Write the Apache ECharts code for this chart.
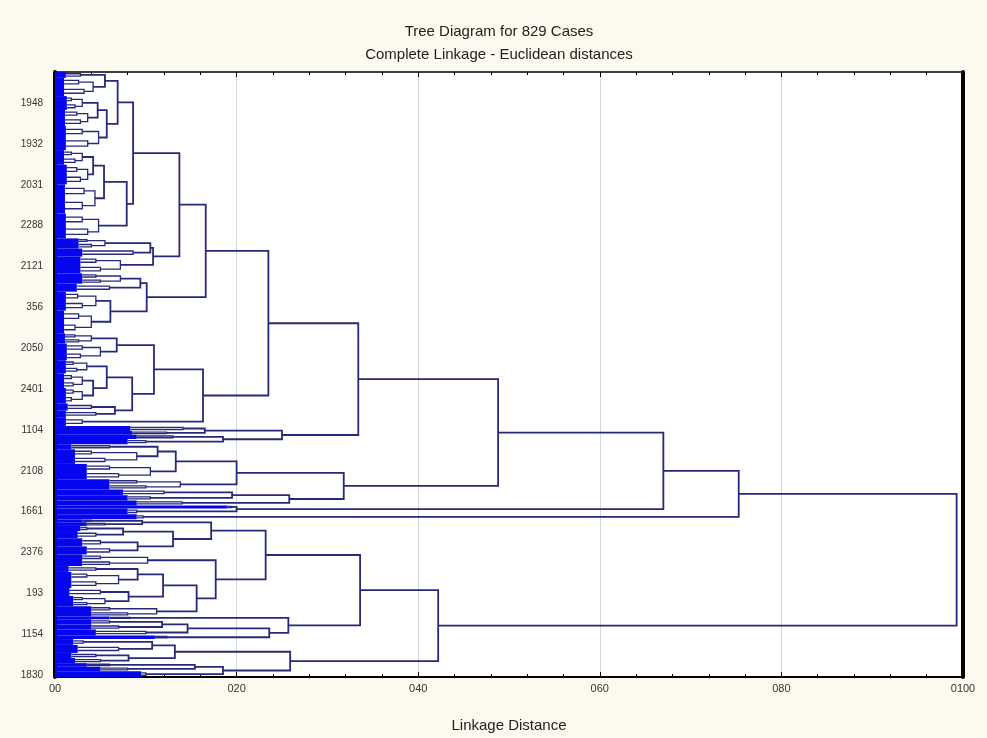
<!DOCTYPE html>
<html>
<head>
<meta charset="utf-8">
<script src="https://cdn.jsdelivr.net/npm/echarts@6/dist/echarts.min.js"></script>
<style>
html,body{margin:0;padding:0;background:#fcf9ef;}
#chart{width:987px;height:738px;}
</style>
</head>
<body>
<div id="chart"></div>
<script>
// ---- data ----
const xTickLabels = ['00', '020', '040', '060', '080', '0100'];
const yTickLabels = ['1948', '1932', '2031', '2288', '2121', '356', '2050', '2401', '1104', '2108', '1661', '2376', '193', '1154', '1830'];
const yTickLeaf = [42, 98, 154, 210, 266, 322, 378, 434, 490, 546, 602, 658, 714, 770, 826];

// base clusters (groups of cases drawn as dense leaf bundles), top to bottom
const baseNames = ['b1','b2','b3','b4','b5','b6','b7','b8','b9','b10','b11','b12','b13','b14','b15','b16','b17','b18','b19','b20','b21','b22','b23','b24','b25','b26','b27','b28','b29','b30','b31','b32','b33','b34','b35','b36','b37','b38','b39','b40','b41','b42','b43','b44','b45','b46','b47','b48','b49','b50','b51','b52','b53','b54','b55','b56','b57','b58','b59','b60','b61','b62'];
const baseCounts = [8,25,19,22,33,20,27,40,34,14,11,23,14,11,26,31,14,23,18,20,21,10,9,12,7,5,6,7,7,20,21,14,8,7,7,4,8,7,4,5,7,10,11,11,16,8,22,11,14,14,4,7,7,8,5,8,11,7,7,5,6,8];
const baseBlue = [.0012,.0010,.0013,.0011,.0012,.0010,.0013,.0011,.0012,.0026,.0030,.0028,.0030,.0024,.0012,.0010,.0011,.0013,.0012,.0010,.0012,.0014,.0012,.0012,.0083,.0085,.0090,.0080,.0018,.0022,.0035,.0060,.0075,.0080,.0090,.0190,.0080,.0090,.0030,.0035,.0028,.0025,.0030,.0035,.0030,.0015,.0018,.0016,.0020,.0040,.0060,.0040,.0040,.0045,.0110,.0020,.0025,.0018,.0022,.0035,.0050,.0095];
const baseHeight = [.0028,.0042,.0030,.0036,.0048,.0030,.0036,.0044,.0048,.0055,.0086,.0072,.0072,.0060,.0045,.0040,.0040,.0050,.0035,.0030,.0030,.0040,.0045,.0030,.0141,.0123,.0130,.0100,.0060,.0090,.0105,.0138,.0120,.0105,.0140,.0195,.0090,.0097,.0040,.0055,.0035,.0045,.0050,.0060,.0102,.0045,.0070,.0050,.0055,.0112,.0083,.0060,.0070,.0100,.0123,.0031,.0070,.0045,.0050,.0060,.0080,.0100];
// inner split of the larger bundles: cases in the upper part (0 = no split) and the two inner heights
const baseSplit = [0,12,9,10,15,9,13,18,16,6,0,11,7,0,12,15,7,11,8,10,10,0,0,0,0,0,0,0,0,9,10,7,0,0,0,0,0,0,0,0,0,0,0,0,8,0,10,0,7,7,0,0,0,0,0,0,0,0,0,0,0,0];
const baseSubUpper = [0,.0026,.0018,.0024,.0030,.0018,.0024,.0032,.0030,.0035,0,.0045,.0045,0,.0025,.0026,.0022,.0030,.0020,.0018,.0020,0,0,0,0,0,0,0,0,.0040,.0060,.0090,0,0,0,0,0,0,0,0,0,0,0,0,.0050,0,.0035,0,.0030,.0060,0,0,0,0,0,0,0,0,0,0,0,0];
const baseSubLower = [0,.0032,.0022,.0028,.0036,.0022,.0028,.0030,.0036,.0040,0,.0050,.0050,0,.0030,.0022,.0026,.0028,.0024,.0020,.0018,0,0,0,0,0,0,0,0,.0055,.0070,.0100,0,0,0,0,0,0,0,0,0,0,0,0,.0060,0,.0045,0,.0035,.0080,0,0,0,0,0,0,0,0,0,0,0,0];

// merges: upper child, lower child, linkage distance
const nodeNames  = ['n105','n98','n107a','n118','n93a','n104','n127','n133','n150','n153','n179','n140','n110','n147','n206','n117','n93b','n107b','n115','n132','n154','n203','n268','n205','n223a','n282','n358','n158','n176','n236','n232','n289','n344','n498','n237','n664','n739','n142','n123','n138','n173','n211','n137','n128a','n163','n197','n216','n266','n162','n188','n269','n288','n360','n152','n128b','n175','n195','n223b','n290','n438','root'];
const nodeUpper  = ['b1','b3','n98','n105','b6','n93a','n104','n118','b10','n150','n133','b13','b15','n140','n179','b17','b20','b19','b22','n107b','n117','n154','n206','b25','b27','n205','n268','b29','n158','n176','b33','n232','n236','n358','b36','n498','n664','b39','b41','b43','n123','n142','b46','b48','n137','n163','b45','n211','b52','n162','n188','b51','n266','b56','b58','n152','b60','n195','n175','n360','n739'];
const nodeLower  = ['b2','b4','b5','n107a','b7','b8','b9','n127','b11','b12','n153','b14','b16','n110','n147','b18','b21','n93b','b23','n115','n132','b24','n203','b26','b28','n223a','n282','b30','b31','b32','b34','b35','n289','n344','b37','n237','b38','b40','b42','b44','n138','n173','b47','b49','n128a','b50','n197','n216','b53','b54','b55','n269','n288','b57','b59','n128b','b61','b62','n223b','n290','n438'];
const nodeHeight = [.0055,.0047,.0057,.0069,.0042,.0054,.0079,.0086,.0105,.0108,.0137,.0094,.0061,.0101,.0166,.0068,.0042,.0057,.0066,.0085,.0109,.0163,.0235,.0165,.0185,.0250,.0334,.0113,.0133,.0200,.0195,.0258,.0318,.0488,.0200,.0670,.0753,.0096,.0075,.0091,.0130,.0172,.0091,.0081,.0119,.0156,.0177,.0232,.0118,.0146,.0236,.0257,.0336,.0107,.0081,.0132,.0154,.0185,.0259,.0422,.0993];

// ---- build layout from the tree ----
const base = {};
baseNames.forEach((n, i) => base[n] = {count: baseCounts[i], blue: baseBlue[i], h: baseHeight[i],
  split: baseSplit[i], su: baseSubUpper[i], sl: baseSubLower[i]});
const nodes = {};
nodeNames.forEach((n, i) => nodes[n] = {u: nodeUpper[i], l: nodeLower[i], h: nodeHeight[i]});
const totalCases = baseCounts.reduce((a, b) => a + b, 0);
let cursor = 0;
const blueData = [], smallData = [], linkData = [];
// a bundle of cases [y0, y1] joined at height h: a small bracket from the blue edge
function bundle(y0, y1, blue, h) {
  const n = y1 - y0;
  smallData.push([h, y0 + n * 0.3, y0 + n * 0.7, blue, blue]);
  return (y0 + y1) / 2;
}
function place(name) {
  if (base[name]) {
    const b = base[name];
    const y0 = cursor, y1 = cursor + b.count;
    cursor = y1;
    blueData.push([b.blue, y0, y1]);
    if (b.split > 0) {
      const ym = y0 + b.split;
      const yu = bundle(y0, ym, b.blue, b.su);
      const yl = bundle(ym, y1, b.blue, b.sl);
      smallData.push([b.h, yu, yl, b.su, b.sl]);
      return {y: (yu + yl) / 2, h: b.h};
    }
    return {y: bundle(y0, y1, b.blue, b.h), h: b.h};
  }
  const n = nodes[name];
  const a = place(n.u), c = place(n.l);
  linkData.push([n.h, a.y, c.y, a.h, c.h]);
  return {y: (a.y + c.y) / 2, h: n.h};
}
place('root');

const NAVY = '#272a7a';
const FONT = 'Liberation Sans, Arial, sans-serif';
function bracket(width) {
  return (p, api) => {
    const h = api.value(0), yu = api.value(1), yl = api.value(2), hu = api.value(3), hl = api.value(4);
    return {type: 'polyline', shape: {points: [api.coord([hu, yu]), api.coord([h, yu]), api.coord([h, yl]), api.coord([hl, yl])]},
            style: {stroke: NAVY, lineWidth: width, fill: null}};
  };
}
const chart = echarts.init(document.getElementById('chart'), null, {renderer: 'canvas'});
const yAxisCommon = {type: 'value', inverse: true, min: 0, max: totalCases, splitLine: {show: false}, axisTick: {show: false}};
chart.setOption({
  backgroundColor: '#fcf9ef',
  animation: false,
  graphic: [
    {type: 'text', x: 499, y: 32, style: {text: 'Tree Diagram for 829 Cases', font: '15px ' + FONT, fill: '#222', textAlign: 'center', textVerticalAlign: 'middle'}},
    {type: 'text', x: 499, y: 55, style: {text: 'Complete Linkage - Euclidean distances', font: '15px ' + FONT, fill: '#222', textAlign: 'center', textVerticalAlign: 'middle'}}
  ],
  grid: {left: 55, right: 24, top: 72, bottom: 59, show: true, backgroundColor: '#ffffff', borderWidth: 0},
  xAxis: [
    {type: 'value', position: 'bottom', min: 0, max: 0.1, interval: 0.02,
     name: 'Linkage Distance', nameLocation: 'middle', nameGap: 41,
     nameTextStyle: {fontSize: 15, color: '#222', fontFamily: FONT},
     axisLine: {show: true, onZero: false, lineStyle: {color: '#000', width: 2}},
     axisTick: {show: true, inside: true, length: 5, lineStyle: {color: '#000'}},
     minorTick: {show: true, splitNumber: 5, length: 3, lineStyle: {color: '#000'}},
     splitLine: {show: true, lineStyle: {color: '#d6d6de', width: 1}},
     axisLabel: {fontSize: 11, color: '#333', fontFamily: FONT, margin: 6,
       formatter: v => xTickLabels[Math.round(v / 0.02)] || ''}},
    {type: 'value', position: 'top', min: 0, max: 0.1, interval: 0.02,
     axisLine: {show: true, onZero: false, lineStyle: {color: '#000', width: 1.5}},
     axisTick: {show: true, inside: true, length: 5, lineStyle: {color: '#000'}},
     minorTick: {show: true, splitNumber: 5, length: 3, lineStyle: {color: '#000'}},
     splitLine: {show: false}, axisLabel: {show: false}}
  ],
  yAxis: [
    Object.assign({}, yAxisCommon, {position: 'left',
      axisLine: {show: true, onZero: false, lineStyle: {color: '#000', width: 4}},
      axisLabel: {show: true, fontSize: 10, color: '#333', fontFamily: FONT, margin: 12,
        customValues: yTickLeaf.map(v => v + 0.5),
        formatter: v => { const k = yTickLeaf.indexOf(Math.round(v - 0.5)); return k >= 0 ? yTickLabels[k] : ''; }}}),
    Object.assign({}, yAxisCommon, {position: 'right',
      axisLine: {show: true, onZero: false, lineStyle: {color: '#000', width: 4}},
      axisLabel: {show: false}})
  ],
  series: [
    {type: 'custom', name: 'leaves', data: blueData, silent: true, z: 2, clip: true,
     encode: {x: 0, y: 1},
     renderItem: (p, api) => {
       const a = api.coord([0, api.value(1)]);
       const b = api.coord([api.value(0), api.value(2)]);
       return {type: 'rect', shape: {x: a[0], y: a[1], width: b[0] - a[0], height: b[1] - a[1]}, style: {fill: '#0505ee'}};
     }},
    {type: 'custom', name: 'groups', data: smallData, silent: true, z: 3, clip: true,
     encode: {x: 0, y: 1}, renderItem: bracket(1.3)},
    {type: 'custom', name: 'links', data: linkData, silent: true, z: 4, clip: true,
     encode: {x: 0, y: 1}, renderItem: bracket(1.8)}
  ]
});
</script>
</body>
</html>
